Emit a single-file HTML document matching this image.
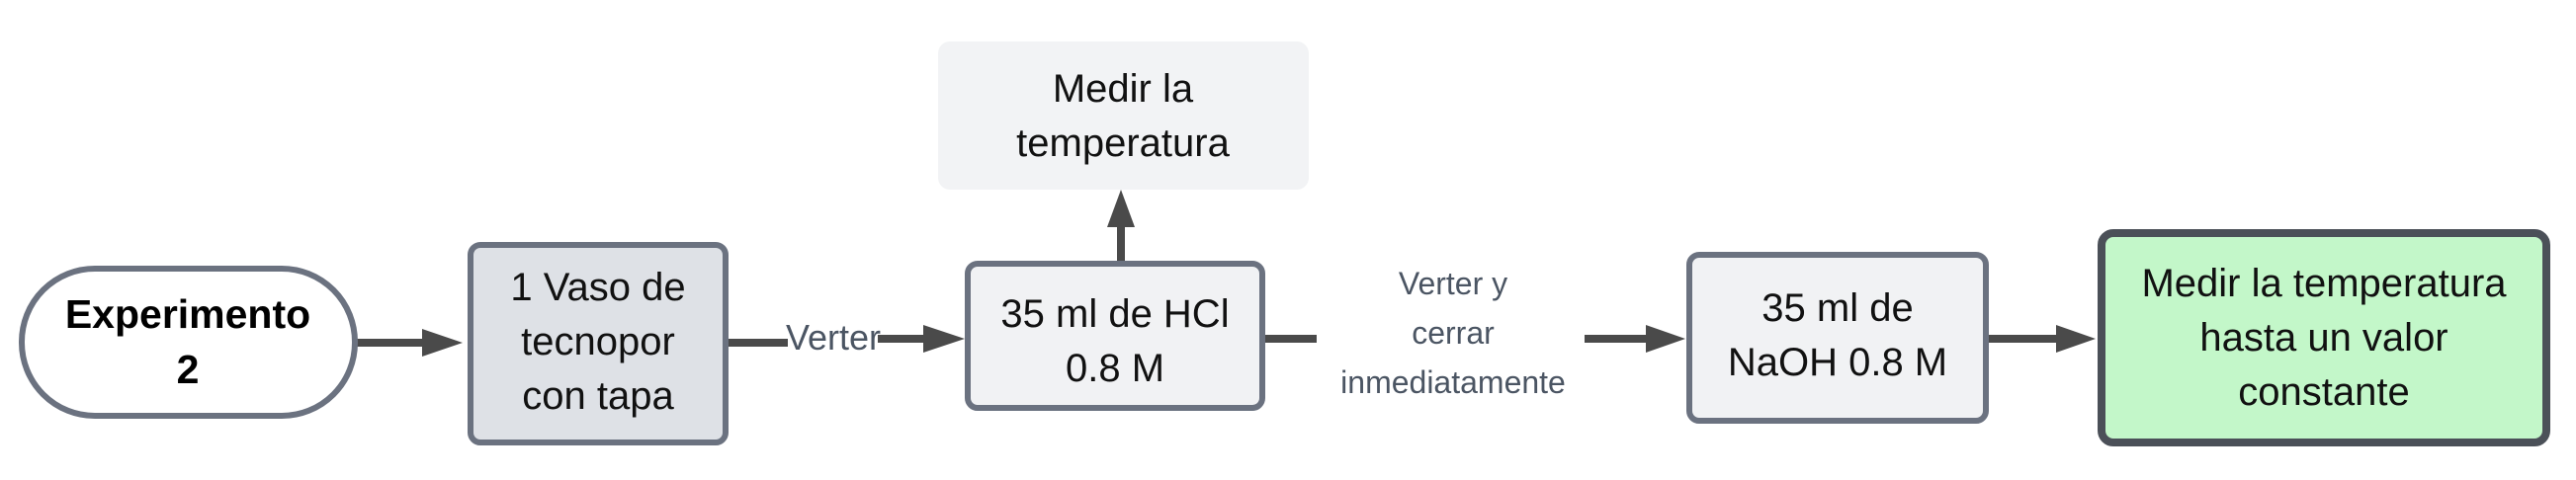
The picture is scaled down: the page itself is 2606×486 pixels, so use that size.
<!DOCTYPE html>
<html><head><meta charset="utf-8"><style>
html,body{margin:0;padding:0;background:#fff;}
svg{display:block;}
text{font-family:"Liberation Sans",Arial,sans-serif;}
</style></head><body>
<svg width="2606" height="486" viewBox="0 0 2606 486" xmlns="http://www.w3.org/2000/svg">
<g fill="#4a4a4a" stroke="none">
<rect x="361" y="343" width="70" height="8"/>
<polygon points="427,333 468,347 427,361"/>
<rect x="737" y="343" width="60" height="8"/>
<rect x="888" y="339" width="50" height="8"/>
<polygon points="934,329 976,343 934,357"/>
<rect x="1130" y="225" width="8" height="40"/>
<polygon points="1120,230 1134,192 1148,230"/>
<rect x="1280" y="339" width="52" height="8"/>
<rect x="1603" y="339" width="66" height="8"/>
<polygon points="1665,329 1705,343 1665,357"/>
<rect x="2012" y="339" width="72" height="8"/>
<polygon points="2080,329 2120,343 2080,357"/>
</g>
<rect x="22" y="272" width="337" height="149" rx="74" fill="#fff" stroke="#6b7280" stroke-width="6"/>
<text x="190" y="332" font-size="41" font-weight="bold" text-anchor="middle" fill="#000">Experimento</text>
<text x="190" y="388" font-size="41" font-weight="bold" text-anchor="middle" fill="#000">2</text>
<rect x="476" y="248" width="258" height="200" rx="10" fill="#dee1e6" stroke="#6b7280" stroke-width="6"/>
<text font-size="40" text-anchor="middle" fill="#111"><tspan x="605" y="304">1 Vaso de</tspan><tspan x="605" y="359">tecnopor</tspan><tspan x="605" y="414">con tapa</tspan></text>
<text x="843" y="354" font-size="36" text-anchor="middle" fill="#4b5563">Verter</text>
<rect x="979" y="267" width="298" height="146" rx="10" fill="#f1f2f4" stroke="#6b7280" stroke-width="6"/>
<text font-size="40" text-anchor="middle" fill="#111"><tspan x="1128" y="331">35 ml de HCl</tspan><tspan x="1128" y="386">0.8 M</tspan></text>
<rect x="949" y="42" width="375" height="150" rx="12" fill="#f2f3f5"/>
<text font-size="40" text-anchor="middle" fill="#111"><tspan x="1136" y="103">Medir la</tspan><tspan x="1136" y="158">temperatura</tspan></text>
<text font-size="32" text-anchor="middle" fill="#4b5563"><tspan x="1470" y="298">Verter y</tspan><tspan x="1470" y="348">cerrar</tspan><tspan x="1470" y="398">inmediatamente</tspan></text>
<rect x="1709" y="258" width="300" height="168" rx="10" fill="#f1f2f4" stroke="#6b7280" stroke-width="6"/>
<text font-size="40" text-anchor="middle" fill="#111"><tspan x="1859" y="325">35 ml de</tspan><tspan x="1859" y="380">NaOH 0.8 M</tspan></text>
<rect x="2126" y="236" width="450" height="212" rx="12" fill="#c3f7c9" stroke="#4b5058" stroke-width="8"/>
<text font-size="40" text-anchor="middle" fill="#111"><tspan x="2351" y="300">Medir la temperatura</tspan><tspan x="2351" y="355">hasta un valor</tspan><tspan x="2351" y="410">constante</tspan></text>
</svg>
</body></html>
